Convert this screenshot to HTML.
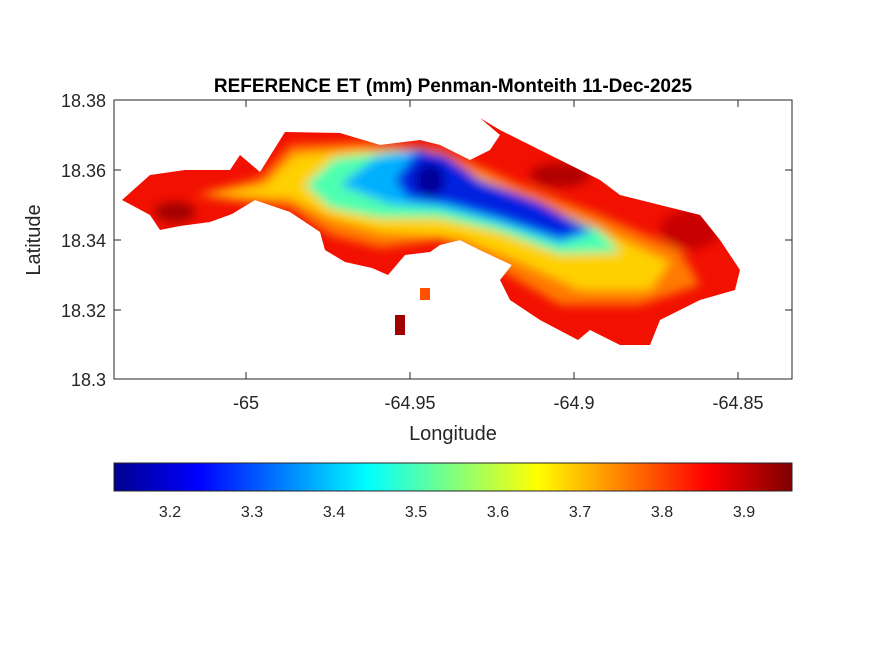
<!DOCTYPE html>
<html><head><meta charset="utf-8"><style>
body{margin:0;background:#fff;}
svg{display:block;font-family:"Liberation Sans",sans-serif;}
</style></head><body>
<svg width="875" height="656" viewBox="0 0 875 656">
<defs>
<linearGradient id="jet" x1="0" x2="1" y1="0" y2="0">
<stop offset="0" stop-color="#00008f"/>
<stop offset="0.125" stop-color="#0000ff"/>
<stop offset="0.375" stop-color="#00ffff"/>
<stop offset="0.625" stop-color="#ffff00"/>
<stop offset="0.875" stop-color="#ff0000"/>
<stop offset="1" stop-color="#800000"/>
</linearGradient>
<filter id="b" x="-20%" y="-20%" width="140%" height="140%"><feGaussianBlur stdDeviation="5"/></filter>
<clipPath id="isl"><path d="M122,200 L150,175 185,170 230,170 240,155 260,172 280,140 285,132 340,133 380,145 420,140 440,145 470,160 490,150 500,135 480,118 500,130 520,140 560,160 600,180 620,195 660,205 700,215 720,240 740,270 735,290 700,300 660,320 650,345 620,345 590,330 578,340 540,320 510,300 500,280 512,265 480,250 460,240 440,245 430,252 405,255 388,275 372,268 345,262 325,250 320,232 290,212 255,200 232,214 210,222 180,226 160,230 150,215 Z"/></clipPath>
</defs>
<g clip-path="url(#isl)">
<rect x="114" y="100" width="678" height="279" fill="#f21000"/>
<g filter="url(#b)">
<ellipse cx="175" cy="212" rx="20" ry="10" fill="#a00000"/>
<ellipse cx="560" cy="175" rx="30" ry="12" fill="#b00000"/>
<ellipse cx="690" cy="230" rx="30" ry="20" fill="#c80000"/>
<path d="M195,195 L260,178 290,145 360,142 440,148 520,185 600,215 680,250 700,285 640,305 560,305 500,270 440,240 380,248 330,235 290,208 240,202 Z" fill="#ff7a00"/>
<path d="M205,195 L265,185 295,155 360,150 440,158 520,195 600,230 670,262 650,290 580,290 520,262 460,238 380,232 330,218 290,198 Z" fill="#ffd000"/>
<path d="M305,185 L335,158 400,150 460,172 540,205 600,230 620,252 560,254 500,232 440,218 380,218 330,208 Z" fill="#4dffb0"/>
<path d="M340,185 L375,158 420,148 460,172 540,203 595,232 560,244 500,224 440,208 390,204 Z" fill="#00b0ff"/>
<path d="M395,180 L418,150 445,155 480,180 540,202 590,230 560,238 500,218 450,204 408,198 Z" fill="#0020e0"/>
<ellipse cx="430" cy="180" rx="15" ry="17" fill="#00009a"/>
</g>
</g>
<rect x="395" y="315" width="10" height="20" fill="#a00000"/>
<rect x="420" y="288" width="10" height="12" fill="#ff5000"/>
<rect x="114" y="100" width="678" height="279" fill="none" stroke="#262626" stroke-width="1"/>
<g stroke="#262626">
<line x1="246" y1="379" x2="246" y2="372"/><line x1="410" y1="379" x2="410" y2="372"/><line x1="574" y1="379" x2="574" y2="372"/><line x1="738" y1="379" x2="738" y2="372"/>
<line x1="246" y1="100" x2="246" y2="107"/><line x1="410" y1="100" x2="410" y2="107"/><line x1="574" y1="100" x2="574" y2="107"/><line x1="738" y1="100" x2="738" y2="107"/>
<line x1="114" y1="170" x2="121" y2="170"/><line x1="114" y1="240" x2="121" y2="240"/><line x1="114" y1="310" x2="121" y2="310"/>
<line x1="792" y1="170" x2="785" y2="170"/><line x1="792" y1="240" x2="785" y2="240"/><line x1="792" y1="310" x2="785" y2="310"/>
</g>
<g font-size="18" fill="#262626" text-anchor="middle">
<text x="246" y="409">-65</text><text x="410" y="409">-64.95</text><text x="574" y="409">-64.9</text><text x="738" y="409">-64.85</text>
</g>
<g font-size="18" fill="#262626" text-anchor="end">
<text x="106" y="107">18.38</text><text x="106" y="177">18.36</text><text x="106" y="247">18.34</text><text x="106" y="317">18.32</text><text x="106" y="386">18.3</text>
</g>
<text x="453" y="440" font-size="20" fill="#262626" text-anchor="middle">Longitude</text>
<text transform="translate(40,240) rotate(-90)" font-size="20" fill="#262626" text-anchor="middle">Latitude</text>
<text x="453" y="92" font-size="19" font-weight="bold" fill="#000" text-anchor="middle">REFERENCE ET (mm) Penman-Monteith 11-Dec-2025</text>
<rect x="114" y="463" width="678" height="28" fill="url(#jet)" stroke="#262626" stroke-width="1"/>
<g font-size="16" fill="#262626" text-anchor="middle">
<text x="170" y="517">3.2</text><text x="252" y="517">3.3</text><text x="334" y="517">3.4</text><text x="416" y="517">3.5</text><text x="498" y="517">3.6</text><text x="580" y="517">3.7</text><text x="662" y="517">3.8</text><text x="744" y="517">3.9</text>
</g>
</svg>
</body></html>
